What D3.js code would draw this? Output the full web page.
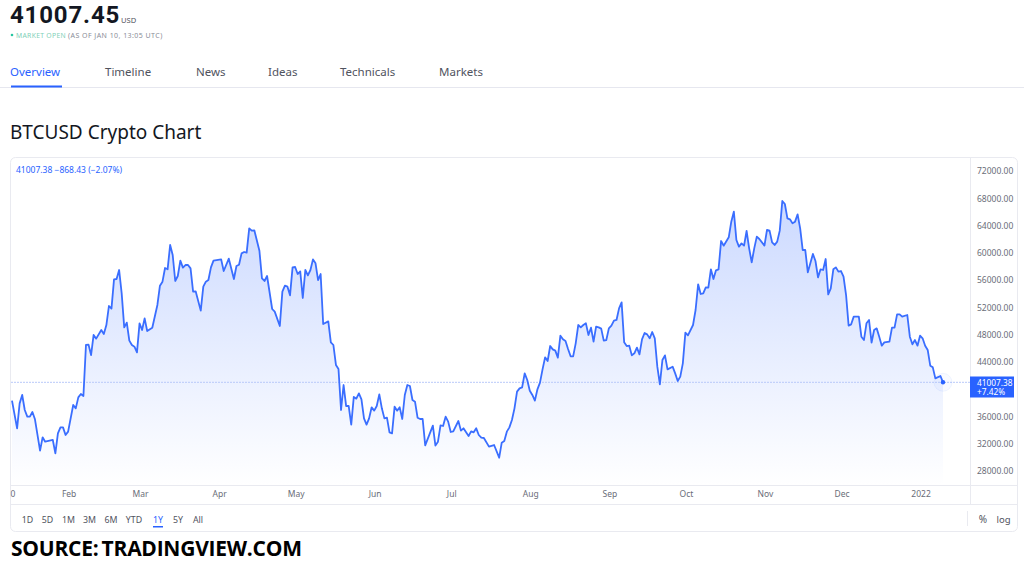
<!DOCTYPE html>
<html>
<head>
<meta charset="utf-8">
<script src="https://cdn.jsdelivr.net/npm/d3@7"></script>
<style>
    html, body { margin: 0; padding: 0; background: #fff; overflow: hidden; }
    svg { display: block; }
    text { font-family: "Noto Sans", sans-serif; }
    .tick text { fill: #6a6d78; font-size: 8.5px; }
    .tick line, .domain { display: none; }
</style>
</head>
<body>
<div id="chart"></div>
<script>
// days since 10 Jan 2021 and the closing price on that day
const startDate = Date.UTC(2021, 0, 10);
const days = [
    0, 2, 3, 4, 5, 6, 7, 8, 9, 11, 12, 13, 16, 17, 18, 19, 20, 21, 22, 24, 25, 26, 27, 28, 29, 30, 31, 32, 33, 35,
    36, 37, 38, 39, 40, 41, 42, 43, 44, 45, 46, 47, 48, 49, 50, 51, 52, 53, 55, 57, 58, 59, 60, 61, 62, 63, 64, 65, 66, 67,
    68, 69, 70, 71, 72, 74, 75, 76, 77, 78, 79, 82, 83, 85, 87, 88, 89, 90, 91, 92, 93, 94, 95, 97, 98, 99, 100, 102, 103, 105,
    106, 107, 108, 109, 110, 111, 112, 113, 114, 115, 116, 117, 118, 119, 120, 121, 122, 124, 125, 126, 127, 128, 129, 130, 131, 132, 133, 134, 135, 136,
    137, 138, 139, 140, 141, 142, 143, 144, 145, 146, 147, 148, 149, 150, 151, 152, 153, 154, 155, 156, 157, 158, 159, 160, 161, 162, 165, 166, 167, 168,
    169, 170, 171, 172, 173, 175, 176, 177, 179, 180, 181, 182, 183, 184, 185, 187, 189, 191, 192, 193, 194, 195, 196, 197, 198, 199, 200, 201, 202, 203,
    204, 205, 206, 207, 208, 209, 210, 211, 212, 213, 214, 215, 216, 217, 218, 219, 220, 221, 222, 223, 224, 225, 226, 227, 228, 229, 230, 231, 232, 233,
    234, 235, 236, 237, 238, 239, 240, 241, 242, 243, 244, 245, 246, 247, 248, 249, 250, 251, 252, 253, 254, 255, 256, 257, 259, 260, 261, 262, 263, 264,
    265, 267, 268, 269, 270, 271, 272, 273, 274, 275, 276, 277, 278, 279, 281, 282, 283, 284, 285, 286, 287, 288, 289, 290, 291, 292, 293, 295, 296, 297,
    298, 299, 300, 301, 302, 303, 304, 305, 306, 307, 308, 309, 310, 311, 312, 314, 315, 316, 317, 318, 319, 320, 321, 322, 323, 324, 325, 326, 327, 328,
    329, 330, 332, 333, 334, 335, 336, 337, 338, 339, 340, 341, 342, 344, 345, 346, 347, 348, 349, 351, 352, 353, 354, 355, 356, 357, 358, 359, 360, 361,
    362, 364, 365
];
const closes = [
    38320, 34260, 37920, 39150, 36950, 35970, 35970, 36650, 35580, 30980, 32940, 32300, 32550, 30590, 33520, 34400, 34400, 33280, 33770, 37680, 37190, 38800, 39290, 39000, 46480, 46530, 45010, 47950, 47410, 48680,
    48090, 49410, 52200, 51810, 56110, 56160, 57480, 54060, 49070, 49760, 47120, 46480, 46240, 45400, 49660, 48680, 50390, 48530, 49020, 52350, 55180, 55770, 57770, 57580, 61150, 59680, 55870, 56600, 58850, 57820,
    58210, 58210, 57720, 54300, 54350, 51520, 55040, 55770, 56010, 57870, 58850, 59040, 57330, 59140, 56160, 58070, 58260, 59920, 60120, 60020, 63590, 63250, 63300, 60300, 56260, 55870, 56600, 51760, 51370, 49270,
    54300, 55180, 55040, 53760, 57870, 57920, 56890, 57280, 53370, 57480, 56700, 57480, 59040, 58460, 56010, 56890, 49560, 49950, 46870, 46480, 43550, 42960, 36950, 40610, 37530, 37530, 34800, 38860, 38610, 39390,
    38510, 35720, 34800, 35720, 37340, 36850, 37530, 39240, 37190, 35720, 35820, 33670, 33520, 37440, 36850, 37340, 35630, 39150, 40610, 40470, 38410, 38170, 35820, 35630, 35630, 31760, 34650, 31720, 32300, 34700,
    34600, 35970, 35240, 33720, 33820, 35330, 33920, 34260, 33130, 33820, 33670, 34260, 33280, 32890, 32840, 31570, 31810, 29950, 32150, 32400, 33770, 34400, 35480, 37190, 39640, 40120, 40270, 42320, 41350, 39780,
    39150, 38320, 39980, 40960, 42910, 44670, 44130, 46330, 45840, 45650, 44620, 47850, 47310, 47070, 45890, 44820, 44820, 46720, 49410, 49070, 49410, 49660, 47950, 49020, 46970, 49170, 49070, 48880, 47120, 47210,
    48920, 49320, 50050, 50150, 51860, 52740, 46870, 46330, 46380, 44960, 45260, 46090, 45110, 47310, 48240, 48040, 47460, 48390, 47460, 43300, 40710, 44280, 44960, 42910, 43300, 42320, 41200, 41840, 43790, 48290,
    47900, 49410, 51610, 55380, 53960, 54060, 54940, 54890, 57580, 56160, 57430, 57580, 61730, 61050, 62270, 64570, 66040, 61880, 60900, 61390, 61050, 63200, 60660, 58600, 60660, 62370, 62030, 61050, 63350, 63250,
    61540, 61150, 61640, 63250, 67600, 67160, 65060, 64910, 64320, 64570, 65640, 63590, 60410, 60410, 57140, 59830, 58800, 56400, 57580, 57480, 59090, 53910, 54790, 57580, 57870, 57240, 57330, 56500, 53810, 49320,
    49510, 50640, 50640, 47700, 47210, 49660, 50150, 46820, 48680, 48920, 47700, 46380, 46870, 46970, 49020, 49020, 50980, 50980, 50640, 50880, 47700, 46580, 47210, 46380, 47850, 47460, 46380, 45750, 43450, 43200,
    41590, 41930, 41007.38
];

const priceTicks = [72000, 68000, 64000, 60000, 56000, 52000, 48000, 44000, 36000, 32000, 28000];
const timeTicks = ["2021-01-10", "2021-02-01", "2021-03-01", "2021-04-01", "2021-05-01", "2021-06-01", "2021-07-01", "2021-08-01", "2021-09-01", "2021-10-01", "2021-11-01", "2021-12-01", "2022-01-01"];
const timeLabels = ["0", "Feb", "Mar", "Apr", "May", "Jun", "Jul", "Aug", "Sep", "Oct", "Nov", "Dec", "2022"];
const tabs = ["Overview", "Timeline", "News", "Ideas", "Technicals", "Markets"];
const tabX = [10, 105, 196, 268, 340, 439];
const ranges = ["1D", "5D", "1M", "3M", "6M", "YTD", "1Y", "5Y", "All"];
const rangeX = [27.5, 47.5, 68.5, 89.5, 111, 134, 158, 178, 198];

const lastPrice = closes[closes.length - 1];
const blue = "#2962ff";
const data = days.map((d, i) => ({ date: new Date(startDate + d * 864e5), close: closes[i] }));

const svg = d3.select("#chart").append("svg")
    .attr("width", 1024)
    .attr("height", 571);

// page header
svg.append("text").attr("x", 10).attr("y", 23)
    .style("font-family", "Roboto, sans-serif")
    .style("font-size", "24px").style("font-weight", "700").style("fill", "#131722")
    .style("letter-spacing", "0.85px")
    .text("41007.45");
svg.append("text").attr("x", 121).attr("y", 23)
    .style("font-size", "7.6px").style("fill", "#50535e").text("USD");
svg.append("circle").attr("cx", 12).attr("cy", 35).attr("r", 1.3).attr("fill", "#26c6a0");
svg.append("text").attr("x", 16).attr("y", 37.5)
    .style("font-size", "6.8px").style("fill", "#7fd0b8").style("letter-spacing", "0.3px").text("MARKET OPEN");
svg.append("text").attr("x", 68).attr("y", 37.5)
    .style("font-size", "7px").style("fill", "#8a8d98").style("letter-spacing", "0.45px").text("(AS OF JAN 10, 13:05 UTC)");

svg.selectAll(".tab").data(tabs).enter().append("text")
    .attr("class", "tab")
    .attr("x", (d, i) => tabX[i])
    .attr("y", 76)
    .style("font-size", "11.5px")
    .style("fill", (d, i) => i === 0 ? blue : "#50535e")
    .text(d => d);
svg.append("line").attr("x1", 0).attr("x2", 1024).attr("y1", 87.5).attr("y2", 87.5).attr("stroke", "#e6e7ef");
svg.append("rect").attr("x", 11).attr("y", 85.5).attr("width", 51).attr("height", 2).attr("fill", blue);

svg.append("text").attr("x", 10).attr("y", 139)
    .style("font-size", "19px").style("fill", "#131722").text("BTCUSD Crypto Chart");

// chart frame
svg.append("rect").attr("x", 10.5).attr("y", 157.5).attr("width", 1007).attr("height", 374).attr("rx", 5)
    .attr("fill", "#fff").attr("stroke", "#e9eaf0");

const x = d3.scaleUtc()
    .domain([new Date(startDate), new Date(startDate + 365 * 864e5)])
    .range([12, 943]);
const y = d3.scaleLinear()
    .domain([28000, 72000])
    .range([471, 171]);

const defs = svg.append("defs");
const grad = defs.append("linearGradient").attr("id", "areaFill")
    .attr("gradientUnits", "userSpaceOnUse")
    .attr("x1", 0).attr("x2", 0).attr("y1", 200).attr("y2", 486);
grad.append("stop").attr("offset", "0%").attr("stop-color", blue).attr("stop-opacity", 0.24);
grad.append("stop").attr("offset", "100%").attr("stop-color", blue).attr("stop-opacity", 0);

const area = d3.area().x(d => x(d.date)).y0(486).y1(d => y(d.close));
const line = d3.line().x(d => x(d.date)).y(d => y(d.close));

svg.append("path").datum(data).attr("d", area).attr("fill", "url(#areaFill)");

// last price line
svg.append("line").attr("x1", 11).attr("x2", 971)
    .attr("y1", y(lastPrice)).attr("y2", y(lastPrice))
    .attr("stroke", "#b9caf9").attr("stroke-dasharray", "2 1");

svg.append("path").datum(data).attr("d", line)
    .attr("fill", "none").attr("stroke", "#3a6eff").attr("stroke-width", 1.8).attr("stroke-linejoin", "round");

const last = data[data.length - 1];
svg.append("circle").attr("cx", x(last.date)).attr("cy", y(last.close)).attr("r", 9)
    .attr("fill", blue).attr("fill-opacity", 0.03).attr("stroke", blue).attr("stroke-opacity", 0.06);
svg.append("circle").attr("cx", x(last.date)).attr("cy", y(last.close)).attr("r", 2.2).attr("fill", blue);

// frame dividers
svg.append("line").attr("x1", 11).attr("x2", 1017).attr("y1", 485.5).attr("y2", 485.5).attr("stroke", "#e9eaf0");
svg.append("line").attr("x1", 11).attr("x2", 1017).attr("y1", 504.5).attr("y2", 504.5).attr("stroke", "#e9eaf0");
svg.append("line").attr("x1", 970.5).attr("x2", 970.5).attr("y1", 158).attr("y2", 505).attr("stroke", "#e9eaf0");

// axes
svg.append("g")
    .attr("transform", "translate(970,0)")
    .call(d3.axisRight(y).tickValues(priceTicks).tickFormat(d3.format(".2f")).tickSize(0).tickPadding(7));
svg.append("g")
    .attr("transform", "translate(0.5,489)")
    .call(d3.axisBottom(x)
        .tickValues(timeTicks.map(d => new Date(d + "T00:00:00Z")))
        .tickFormat((d, i) => timeLabels[i])
        .tickSize(0).tickPadding(2));

// last price tag
svg.append("rect").attr("x", 970).attr("y", 376.5).attr("width", 44).attr("height", 21).attr("fill", blue);
svg.append("text").attr("x", 977).attr("y", 385.5)
    .style("font-size", "8.3px").style("fill", "#fff").text(d3.format(".2f")(lastPrice));
svg.append("text").attr("x", 977).attr("y", 395)
    .style("font-size", "8.3px").style("fill", "#fff").text("+7.42%");

svg.append("text").attr("x", 16).attr("y", 173)
    .style("font-size", "8.5px").style("fill", blue)
    .text("41007.38 \u2212868.43 (\u22122.07%)");

// range buttons
svg.selectAll(".range").data(ranges).enter().append("text")
    .attr("class", "range")
    .attr("x", (d, i) => rangeX[i])
    .attr("y", 522.5)
    .attr("text-anchor", "middle")
    .style("font-size", "8.8px")
    .style("fill", d => d === "1Y" ? blue : "#50535e")
    .text(d => d);
svg.append("rect").attr("x", 153).attr("y", 526).attr("width", 10).attr("height", 1.5).attr("fill", blue);
svg.append("line").attr("x1", 967.5).attr("x2", 967.5).attr("y1", 511).attr("y2", 526).attr("stroke", "#e9eaf0");
svg.append("text").attr("x", 983).attr("y", 523).attr("text-anchor", "middle")
    .style("font-size", "10px").style("fill", "#50535e").text("%");
svg.append("text").attr("x", 1003.5).attr("y", 523).attr("text-anchor", "middle")
    .style("font-size", "9.5px").style("fill", "#50535e").text("log");

svg.append("text").attr("x", 11).attr("y", 555.5)
    .style("font-family", "'Open Sans', sans-serif")
    .style("font-size", "21px").style("font-weight", "700").style("fill", "#000")
    .style("letter-spacing", "-0.25px").style("word-spacing", "-2px")
    .text("SOURCE: TRADINGVIEW.COM");
</script>
</body>
</html>
